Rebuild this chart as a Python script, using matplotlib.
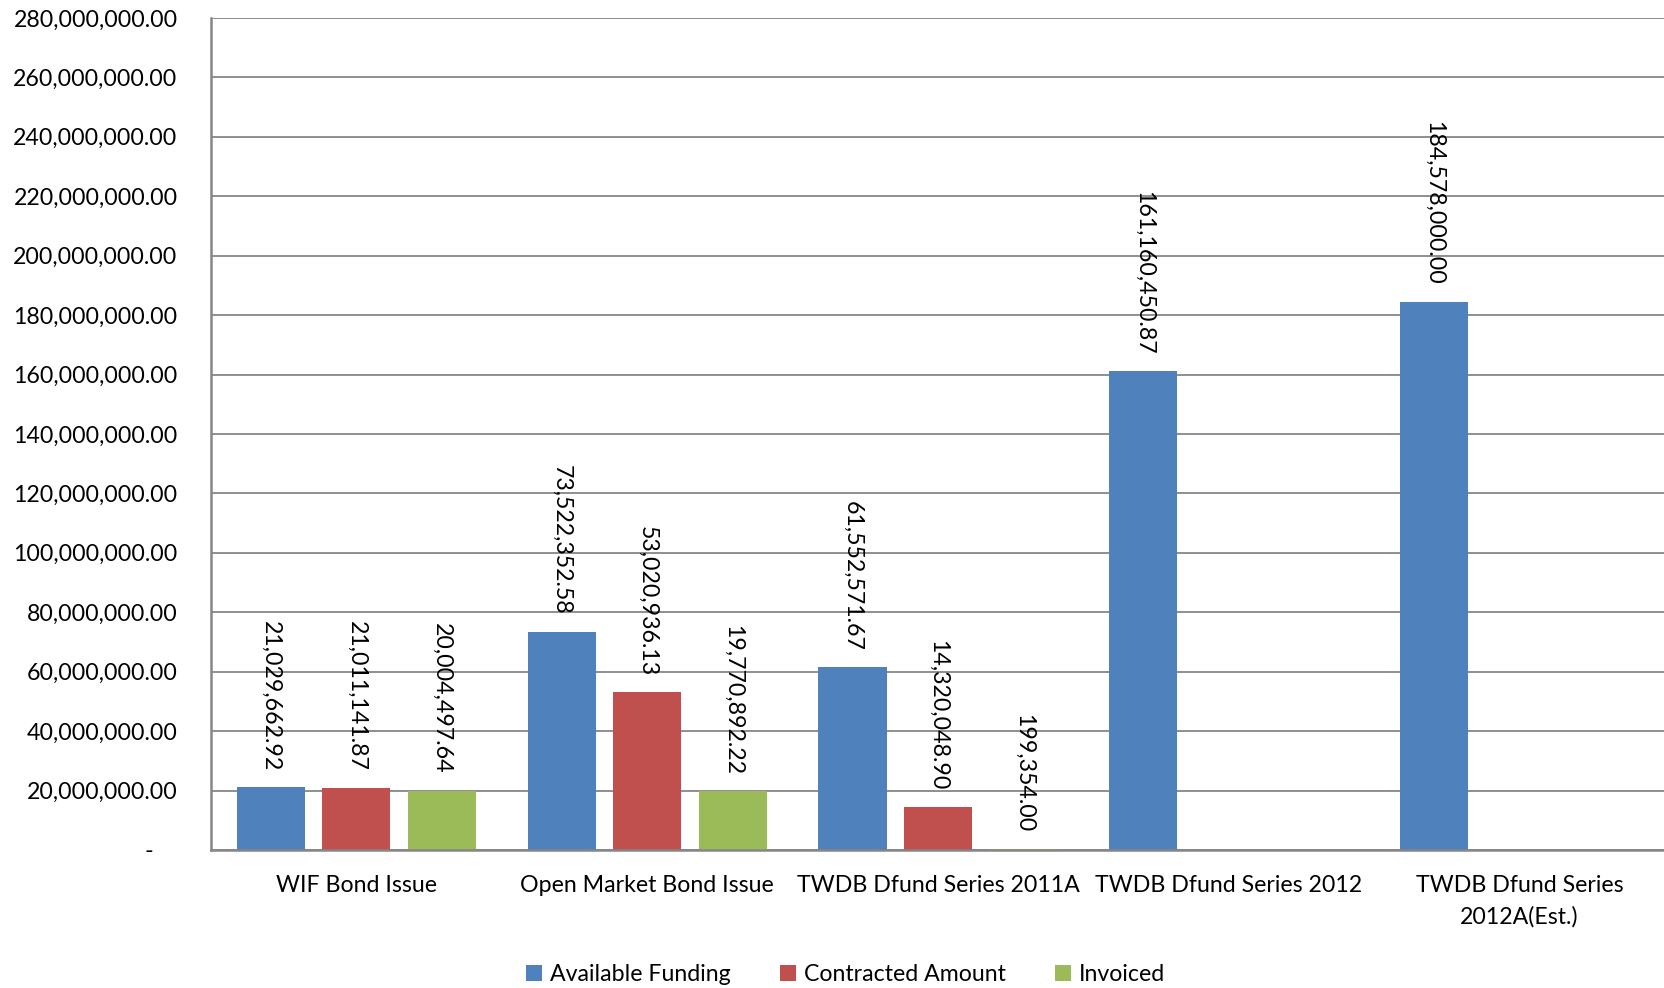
import numpy as np
import matplotlib
matplotlib.use("Agg")
import matplotlib.pyplot as plt

categories = ["WIF Bond Issue", "Open Market Bond Issue", "TWDB Dfund Series 2011A",
              "TWDB Dfund Series 2012", "TWDB Dfund Series\n2012A(Est.)"]
available = [21029662.92, 73522352.58, 61552571.67, 161160450.87, 184578000.00]
contracted = [21011141.87, 53020936.13, 14320048.90, np.nan, np.nan]
invoiced = [20004497.64, 19770892.22, 199354.00, np.nan, np.nan]
series_names = ["Available Funding", "Contracted Amount", "Invoiced"]
colors = ["#4F81BD", "#C0504D", "#9BBB59"]

plt.rcParams['font.family'] = ['Lato', 'DejaVu Sans']
FS = 16.7

fig = plt.figure(figsize=(16.65, 9.88), dpi=100)
ax = fig.add_axes([0.1267, 0.1397, 0.8733, 0.8421])

x = np.arange(len(categories))
w = 0.234
step = 0.294
for i, (vals, name) in enumerate(zip([available, contracted, invoiced], series_names)):
    pos = x + (i - 1) * step
    ax.bar(pos, vals, width=w, color=colors[i], linewidth=0, label=name, zorder=2)
    for p, v in zip(pos, vals):
        if np.isnan(v):
            continue
        ax.annotate(f"{v:,.2f}", (p, v), xytext=(0, 12), textcoords="offset points",
                    rotation=270, ha="center", va="bottom", fontsize=FS, color="black")

ax.set_xlim(-0.5, len(categories) - 0.5)
ax.set_ylim(0, 280e6)
yt = np.arange(0, 280e6 + 1, 20e6)
ax.set_yticks(yt)
ax.set_yticklabels(["-    " if v == 0 else f"{v:,.2f}" for v in yt], fontsize=FS)
ax.set_xticks(x)
ax.set_xticklabels(categories, fontsize=FS, linespacing=1.55)
ax.tick_params(axis="both", length=0)
ax.tick_params(axis="y", pad=24)
ax.tick_params(axis="x", pad=18)

ax.grid(axis="y", color="#868686", linewidth=1.3, zorder=0)
for s in ["top", "right"]:
    ax.spines[s].set_visible(False)
for s in ["left", "bottom"]:
    ax.spines[s].set_color("#868686")
    ax.spines[s].set_linewidth(1.8)
    ax.spines[s].set_zorder(3)

fig.legend(loc="lower center", bbox_to_anchor=(0.508, -0.018), ncol=3, frameon=False,
           fontsize=FS, handlelength=0.7, handleheight=0.7, handletextpad=0.35,
           columnspacing=2.1)

fig.savefig("out.png", dpi=100)
